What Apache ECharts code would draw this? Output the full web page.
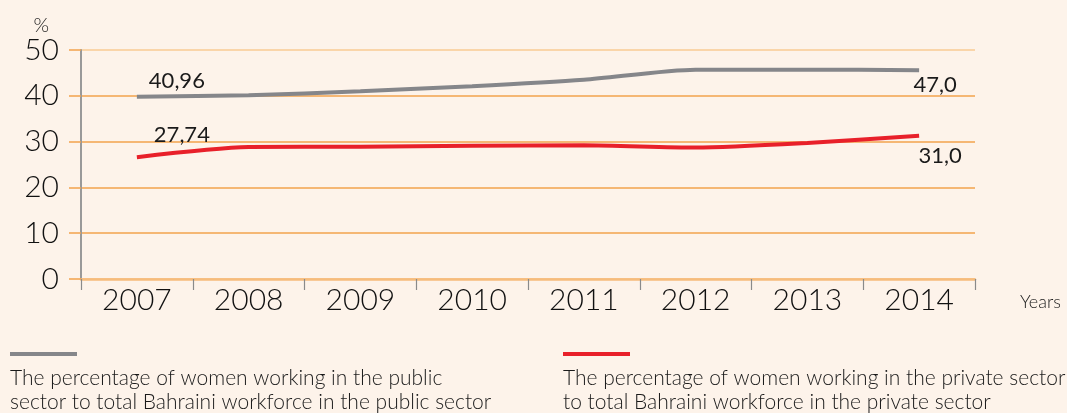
<!DOCTYPE html>
<html>
<head>
<meta charset="utf-8">
<script src="https://cdn.jsdelivr.net/npm/echarts@6/dist/echarts.min.js"></script>
<style>
  html, body { margin: 0; padding: 0; background: #FDF3EA; }
  #chart { width: 1067px; height: 413px; }
</style>
</head>
<body>
<div id="chart"></div>
<script>
// women in the Bahraini workforce, public vs private
var years = ['2007', '2008', '2009', '2010', '2011', '2012', '2013', '2014'];
var publicSector = [39.8, 40.1, 41.0, 42.1, 43.5, 45.7, 45.7, 45.6];
var privateSector = [26.6, 28.8, 28.9, 29.1, 29.2, 28.7, 29.7, 31.3];
// printed labels at the first and last year
var publicLabels = ['40,96', '47,0'];
var privateLabels = ['27,74', '31,0'];
var legendNames = [
    ['The percentage of women working in the public', 'sector to total Bahraini workforce in the public sector'],
    ['The percentage of women working in the private sector', 'to total Bahraini workforce in the private sector']
];

var labelFont = {fontFamily: 'Lato', fontSize: 22, color: '#1a1a1a'};

function withLabels(values, labels, offsets) {
    var last = values.length - 1;
    return values.map(function (v, i) {
        if (i === 0 || i === last) {
            var k = i === 0 ? 0 : 1;
            return {
                value: v,
                label: Object.assign({
                    show: true,
                    position: 'inside',
                    offset: offsets[k],
                    formatter: labels[k]
                }, labelFont)
            };
        }
        return v;
    });
}

var option = {
    backgroundColor: '#FDF3EA',
    animation: false,
    grid: {left: 81, right: 92, top: 50, bottom: 134},
    xAxis: {
        type: 'category',
        data: years,
        boundaryGap: true,
        name: 'Years',
        nameLocation: 'end',
        nameGap: 45,
        nameTextStyle: {fontFamily: 'Lato', fontWeight: 300, fontSize: 18, color: '#1a1a1a', verticalAlign: 'top', padding: [14, 0, 0, 0]},
        axisLine: {lineStyle: {color: '#F6BC7C', width: 2.5}},
        axisTick: {show: true, length: 11, lineStyle: {color: '#8a8a8a', width: 1.2}},
        axisLabel: {fontFamily: 'Lato', fontWeight: 300, fontSize: 30, color: '#111', margin: 6}
    },
    yAxis: {
        type: 'value',
        min: 0,
        max: 50,
        interval: 10,
        name: '%',
        nameLocation: 'end',
        nameGap: 14,
        nameTextStyle: {fontFamily: 'Lato', fontWeight: 300, fontSize: 20, color: '#1a1a1a', align: 'right', padding: [0, 32, 0, 0]},
        axisLine: {show: true, lineStyle: {color: '#999', width: 2}},
        axisTick: {show: true, length: 12, lineStyle: {color: '#F2A34C', width: 1.5}},
        axisLabel: {fontFamily: 'Lato', fontWeight: 300, fontSize: 30, color: '#111', margin: 22},
        splitLine: {
            lineStyle: {
                color: ['#F6BC7C', '#F2A34C', '#F2A34C', '#F2A34C', '#F2A34C', '#F8CB93'],
                width: 1.5
            }
        }
    },
    series: [
        {
            name: legendNames[0].join(' '),
            type: 'line',
            smooth: 0.25,
            symbol: 'circle',
            symbolSize: 0,
            showSymbol: true,
            lineStyle: {color: '#85868A', width: 4},
            itemStyle: {color: '#85868A'},
            data: withLabels(publicSector, publicLabels, [[40, -16], [16, 15]])
        },
        {
            name: legendNames[1].join(' '),
            type: 'line',
            smooth: 0.25,
            symbol: 'circle',
            symbolSize: 0,
            showSymbol: true,
            lineStyle: {color: '#E8202A', width: 4},
            itemStyle: {color: '#E8202A'},
            data: withLabels(privateSector, privateLabels, [[45, -22], [21, 20]])
        }
    ],
    graphic: [
        {type: 'line', shape: {x1: 10, y1: 354, x2: 77, y2: 354}, style: {stroke: '#85868A', lineWidth: 4}},
        {type: 'line', shape: {x1: 563, y1: 354, x2: 630, y2: 354}, style: {stroke: '#E8202A', lineWidth: 4}},
        {type: 'text', left: 10, top: 366, style: {text: legendNames[0].join('\n'), font: '300 21px Lato', fill: '#1a1a1a', lineHeight: 24}},
        {type: 'text', left: 563, top: 366, style: {text: legendNames[1].join('\n'), font: '300 21px Lato', fill: '#1a1a1a', lineHeight: 24}}
    ]
};

var chart = echarts.init(document.getElementById('chart'));
chart.setOption(option);
</script>
</body>
</html>
